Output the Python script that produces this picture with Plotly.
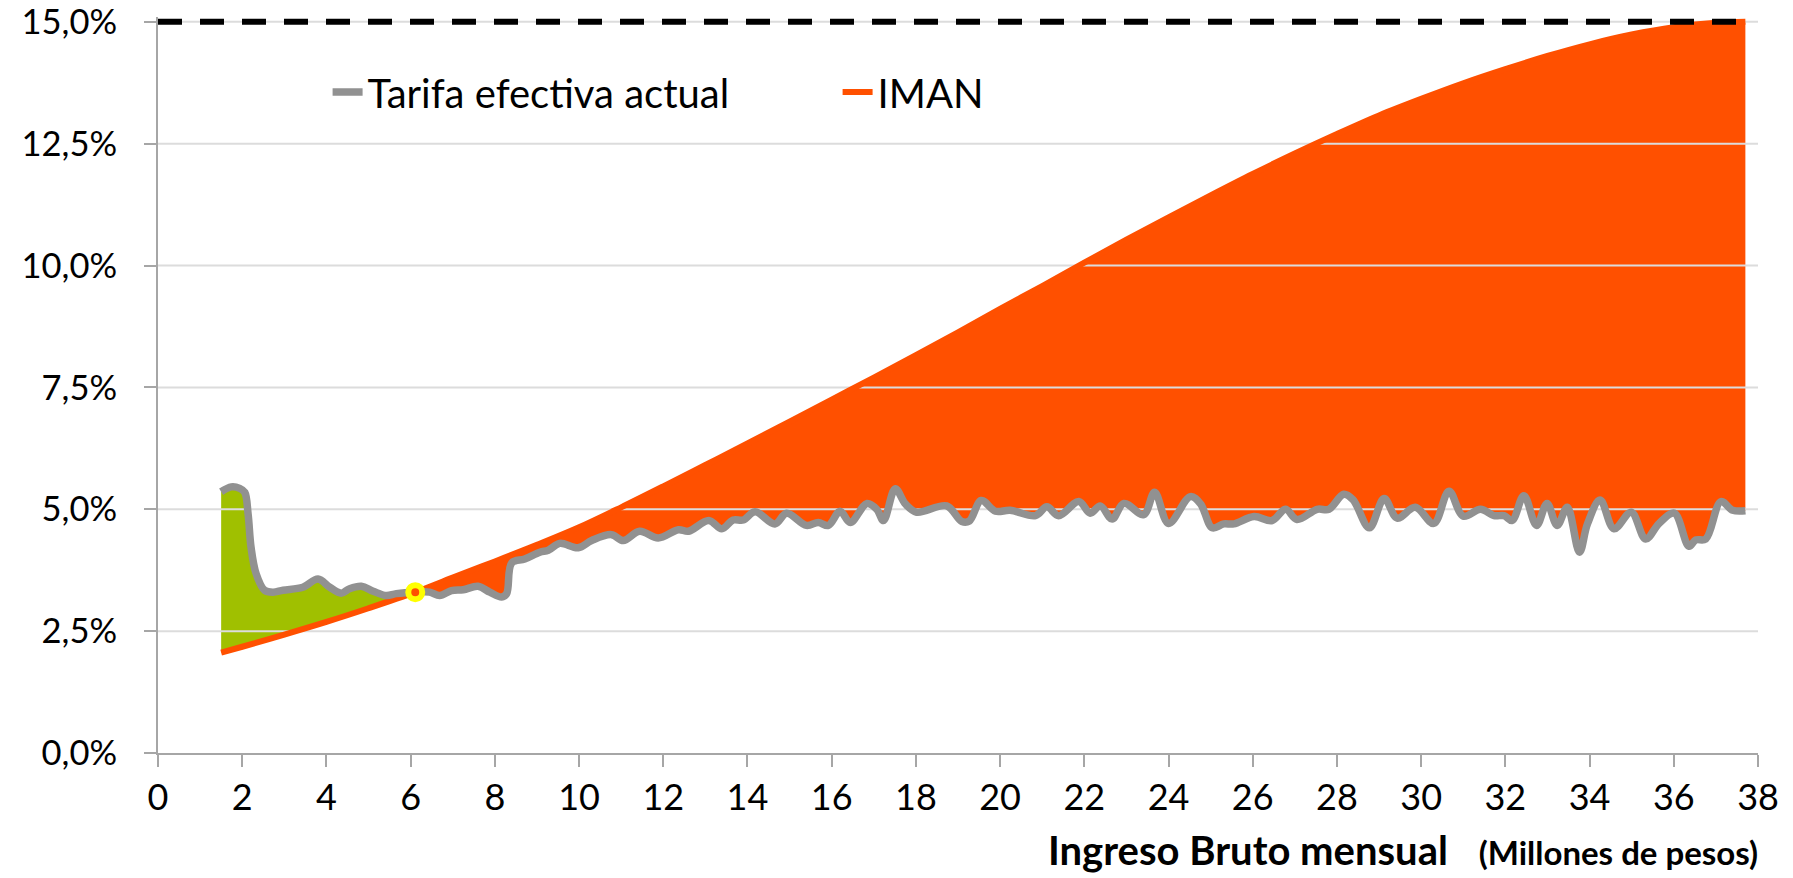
import plotly.graph_objects as go

# ---------------- data ----------------
tarifa_name = "Tarifa efectiva actual"
tarifa_x = [1.50, 1.74, 1.94, 2.06, 2.14, 2.21, 2.33, 2.53, 2.73, 2.97, 3.44, 3.80, 4.08, 4.35,
            4.55, 4.83, 5.11, 5.42, 5.66, 6.11, 6.45, 6.69, 6.97, 7.25, 7.60, 7.88, 8.16, 8.28,
            8.40, 8.71, 9.07, 9.27, 9.54, 9.98, 10.30, 10.77, 11.05, 11.44, 11.88, 12.36, 12.60,
            13.08, 13.39, 13.66, 13.90, 14.18, 14.65, 14.93, 15.40, 15.68, 15.92, 16.20, 16.44,
            16.84, 17.07, 17.23, 17.51, 17.75, 18.02, 18.73, 19.09, 19.27, 19.55, 19.89, 20.24,
            20.84, 21.11, 21.39, 21.87, 22.14, 22.38, 22.66, 22.94, 23.41, 23.67, 24.00, 24.52,
            24.76, 25.04, 25.31, 25.55, 26.03, 26.46, 26.78, 27.05, 27.53, 27.81, 28.16, 28.38,
            28.77, 29.12, 29.43, 29.86, 30.30, 30.66, 31.00, 31.41, 31.73, 31.97, 32.16, 32.44,
            32.74, 32.99, 33.23, 33.47, 33.76, 33.95, 34.25, 34.58, 34.99, 35.33, 35.65, 36.01,
            36.36, 36.52, 36.76, 37.12, 37.40, 37.70]
tarifa_y = [5.36, 5.46, 5.43, 5.35, 4.90, 4.22, 3.68, 3.34, 3.30, 3.34, 3.40, 3.57, 3.40, 3.28,
            3.37, 3.42, 3.32, 3.23, 3.27, 3.30, 3.30, 3.23, 3.33, 3.35, 3.42, 3.30, 3.20, 3.27,
            3.90, 3.98, 4.12, 4.16, 4.30, 4.21, 4.36, 4.48, 4.36, 4.55, 4.41, 4.58, 4.55,
            4.77, 4.60, 4.78, 4.78, 4.95, 4.70, 4.92, 4.67, 4.73, 4.67, 4.96, 4.73,
            5.12, 5.00, 4.77, 5.42, 5.11, 4.94, 5.07, 4.75, 4.76, 5.18, 4.96, 4.98,
            4.87, 5.05, 4.87, 5.16, 4.92, 5.07, 4.80, 5.12, 4.89, 5.35, 4.71, 5.26,
            5.11, 4.62, 4.70, 4.70, 4.85, 4.77, 5.00, 4.79, 5.00, 5.00, 5.31, 5.20,
            4.62, 5.22, 4.82, 5.04, 4.71, 5.37, 4.86, 5.00, 4.87, 4.87, 4.77, 5.28,
            4.67, 5.12, 4.67, 5.04, 4.12, 4.70, 5.19, 4.60, 4.94, 4.39, 4.71, 4.92,
            4.24, 4.37, 4.39, 5.16, 4.98, 4.97]

iman_name = "IMAN"
iman_x = [1.50, 2, 3, 4, 5, 6.11, 7, 8, 9, 10, 11, 12, 13, 14, 15, 16, 17, 18, 19, 20, 21, 22,
          23, 24, 25, 26, 27, 28, 29, 30, 31, 32, 33, 34, 35, 36, 37, 37.70]
iman_y = [2.06, 2.18, 2.43, 2.69, 2.97, 3.30, 3.60, 3.93, 4.27, 4.63, 5.04, 5.47, 5.91, 6.35,
          6.80, 7.25, 7.70, 8.16, 8.63, 9.11, 9.58, 10.06, 10.53, 10.99, 11.44, 11.88, 12.30,
          12.70, 13.08, 13.42, 13.74, 14.03, 14.30, 14.54, 14.74, 14.89, 14.98, 15.00]

cruce_x = [6.11]
cruce_y = [3.30]

tope_y = 15.0

y_tick_vals = [0, 2.5, 5, 7.5, 10, 12.5, 15]
y_tick_text = ["0,0%", "2,5%", "5,0%", "7,5%", "10,0%", "12,5%", "15,0%"]
x_tick_vals = [0, 2, 4, 6, 8, 10, 12, 14, 16, 18, 20, 22, 24, 26, 28, 30, 32, 34, 36, 38]

x_title = "Ingreso Bruto mensual"
x_subtitle = "(Millones de pesos)"

# ---------------- style ----------------
GRAY = "#919191"
ORANGE = "#FF5000"
GREEN = "#A0C000"
GRID = "#DCDCDC"
AXIS = "#A6A6A6"
FONT = "Lato"
X_RANGE = [0, 38]
Y_RANGE = [0, 15.1]

x0 = cruce_x[0]
g_left = [(x, y) for x, y in zip(tarifa_x, tarifa_y) if x <= x0]
g_right = [(x, y) for x, y in zip(tarifa_x, tarifa_y) if x >= x0]
i_left = [(x, y) for x, y in zip(iman_x, iman_y) if x <= x0]
i_right = [(x, y) for x, y in zip(iman_x, iman_y) if x >= x0]

fig = go.Figure()
common = dict(mode="lines", hoverinfo="skip", showlegend=False, line_shape="spline")

# green area (actual rate above IMAN)
fig.add_trace(go.Scatter(x=[p[0] for p in i_left], y=[p[1] for p in i_left],
                         line=dict(width=0, color=GREEN, smoothing=1), **common))
fig.add_trace(go.Scatter(x=[p[0] for p in g_left], y=[p[1] for p in g_left],
                         line=dict(width=0, color=GREEN, smoothing=1),
                         fill="tonexty", fillcolor=GREEN, **common))
# orange area (IMAN above actual rate)
fig.add_trace(go.Scatter(x=[p[0] for p in g_right], y=[p[1] for p in g_right],
                         line=dict(width=0, color=ORANGE, smoothing=1), **common))
fig.add_trace(go.Scatter(x=[p[0] for p in i_right], y=[p[1] for p in i_right],
                         line=dict(width=0, color=ORANGE, smoothing=1),
                         fill="tonexty", fillcolor=ORANGE, **common))

# gridlines drawn over the filled areas (as in the original)
for v in y_tick_vals[1:]:
    fig.add_trace(go.Scatter(x=X_RANGE, y=[v, v], mode="lines", hoverinfo="skip",
                             showlegend=False, line=dict(color=GRID, width=2)))

# IMAN line
fig.add_trace(go.Scatter(x=iman_x, y=iman_y, mode="lines", name=iman_name,
                         line=dict(color=ORANGE, width=6, shape="spline", smoothing=1)))
# Tarifa efectiva actual line
fig.add_trace(go.Scatter(x=tarifa_x, y=tarifa_y, mode="lines", name=tarifa_name,
                         line=dict(color=GRAY, width=7.5, shape="spline", smoothing=1)))
# 15% cap (dashed)
fig.add_trace(go.Scatter(x=[X_RANGE[0], iman_x[-1]], y=[tope_y, tope_y], mode="lines",
                         hoverinfo="skip", showlegend=False,
                         line=dict(color="black", width=6, dash="24px,18px")))
# crossing point
fig.add_trace(go.Scatter(x=cruce_x, y=cruce_y, mode="markers", hoverinfo="skip",
                         showlegend=False, cliponaxis=False,
                         marker=dict(color=ORANGE, size=14, line=dict(color="#FFFF00", width=6))))

fig.update_layout(
    width=1793, height=878,
    margin=dict(l=158, r=35, t=17, b=125, autoexpand=False),
    paper_bgcolor="white", plot_bgcolor="white",
    font=dict(family=FONT, size=36, color="black"),
    hovermode=False,
    legend=dict(orientation="h", x=0.106, xanchor="left", y=0.898, yanchor="middle",
                font=dict(family=FONT, size=40, color="black"),
                traceorder="reversed", entrywidth=465, entrywidthmode="pixels",
                bgcolor="rgba(0,0,0,0)"),
    xaxis=dict(range=X_RANGE, tickvals=x_tick_vals, ticktext=[str(v) for v in x_tick_vals],
               showgrid=False, zeroline=False, showline=True, linecolor=AXIS, linewidth=2,
               ticks="outside", ticklen=12, tickwidth=2, tickcolor=AXIS, automargin=False,
               tickfont=dict(family=FONT, size=36, color="black"), ticklabelstandoff=0,
               ticklabeloverflow="allow"),
    yaxis=dict(range=Y_RANGE, tickvals=y_tick_vals, ticktext=y_tick_text,
               showgrid=False, zeroline=False, showline=True, linecolor=AXIS, linewidth=2,
               ticks="outside", ticklen=12, tickwidth=2, tickcolor=AXIS, automargin=False,
               tickfont=dict(family=FONT, size=34.5, color="black"), ticklabelstandoff=20,
               ticklabeloverflow="allow"),
    annotations=[dict(
        text=("<b>" + x_title + "</b>&nbsp;&nbsp;&nbsp;<b><span style='font-size:33px'>"
              + x_subtitle + "</span></b>"),
        xref="paper", yref="paper", x=1.0, y=0, xanchor="right", yanchor="middle",
        yshift=-97, xshift=2, showarrow=False,
        font=dict(family=FONT, size=40, color="black"))],
)

fig.write_html("out.html", config={"displayModeBar": False},
               post_script="document.body.style.margin='0';document.body.style.overflow='hidden';")
